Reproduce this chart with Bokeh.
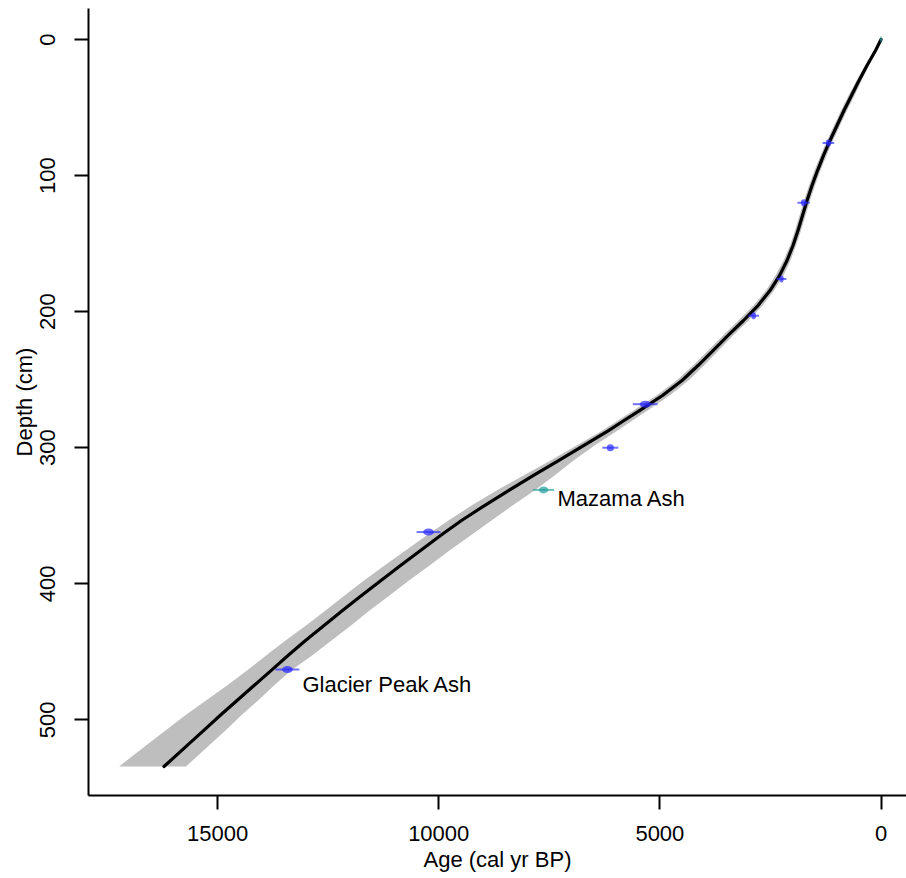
from bokeh.plotting import figure
from bokeh.models import Range1d, FixedTicker
from bokeh.core.properties import value
from bokeh.embed import file_html
from bokeh.resources import INLINE

# ---- age-depth model (median curve) ----
model_depth = [0, 8.1, 19.1, 30.1, 41.2, 52.2, 63.2, 74.2, 85.2, 96.3, 107.3, 118.3,
               129.3, 140.4, 151.4, 162.4, 173.5, 184.5, 195.5, 206.5, 217.5, 228.6,
               239.6, 250.6, 261.6, 272.7, 280.0, 287.4, 298.4, 309.4, 320.4, 331.5,
               342.5, 353.5, 364.5, 375.6, 386.6, 397.6, 408.6, 419.7, 430.7, 441.7,
               452.7, 463.8, 474.8, 485.8, 496.8, 507.9, 518.9, 534.3]
model_age = [0, 124, 317, 497, 667, 837, 995, 1153, 1300, 1436, 1560, 1673, 1775,
             1877, 1990, 2125, 2295, 2510, 2781, 3109, 3459, 3798, 4137, 4499, 4940,
             5460, 5811, 6161, 6726, 7291, 7857, 8422, 8965, 9485, 9959, 10411,
             10864, 11305, 11745, 12175, 12593, 13012, 13407, 13792, 14176, 14560,
             14944, 15318, 15691, 16211]

# ---- uncertainty envelope (same depths as the model) ----
band_age_old = [11, 158, 362, 554, 735, 905, 1063, 1221, 1368, 1504, 1628, 1741,
                1843, 1945, 2058, 2204, 2385, 2600, 2883, 3222, 3572, 3911, 4250,
                4623, 5076, 5596, 5947, 6297, 6884, 7472, 8083, 8693, 9259, 9779,
                10276, 10750, 11226, 11689, 12129, 12559, 13000, 13464, 13904, 14335,
                14786, 15261, 15735, 16177, 16618, 17228]
band_age_young = [-11, 90, 272, 440, 599, 769, 927, 1085, 1232, 1368, 1492, 1605,
                  1707, 1809, 1922, 2046, 2205, 2420, 2679, 2996, 3346, 3674, 4001,
                  4352, 4782, 5279, 5619, 5958, 6477, 6952, 7382, 7834, 8332, 8807,
                  9281, 9755, 10208, 10672, 11112, 11565, 11983, 12424, 12864, 13340,
                  13724, 14085, 14469, 14821, 15194, 15714]

# ---- dated levels ----
date_depth = [0, 76, 120, 176, 203, 268, 300, 331, 362, 463]
date_age = [0, 1190, 1750, 2250, 2880, 5330, 6120, 7630, 10230, 13420]
date_err = [30, 130, 140, 110, 120, 280, 180, 240, 270, 270]
date_kind = ["surface", "c14", "c14", "c14", "c14", "c14", "c14", "tephra", "c14", "c14"]

# ---- annotations ----
label_text = ["Mazama Ash", "Glacier Peak Ash"]
label_age = [7314, 13080]
label_depth = [337, 474]

x_ticks = [0, 5000, 10000, 15000]
y_ticks = [0, 100, 200, 300, 400, 500]

FONT = "Liberation Sans"
FS = "22px"

p = figure(width=906, height=878, output_backend="svg", toolbar_location=None,
           x_range=Range1d(17918, -576), y_range=Range1d(555.6, -22.8),
           min_border_left=88, min_border_right=0, min_border_top=8,
           min_border_bottom=83)
p.background_fill_color = "white"
p.border_fill_color = "white"
p.outline_line_color = None
p.grid.visible = False

# envelope and model
p.harea(y=model_depth, x1=band_age_old, x2=band_age_young, fill_color="#BEBEBE")
p.line(model_age, model_depth, line_color="black", line_width=3.2,
       line_join="round", line_cap="round")

# dates
colors = {"c14": "#2828FF", "tephra": "#229C9C", "surface": "#229C9C"}
for a, d, e, k in zip(date_age, date_depth, date_err, date_kind):
    c = colors[k]
    p.segment(x0=[a - e], y0=[d], x1=[a + e], y1=[d], line_color=c, line_width=2,
              line_alpha=0.65)
    p.ellipse(x=[a], y=[d], width=[e * 0.9], height=[7], height_units="screen",
              fill_color=c, fill_alpha=0.7, line_color=None)

p.text(x=label_age, y=label_depth, text=label_text, text_font=value(FONT),
       text_font_size=FS, text_align="left", text_baseline="middle",
       text_color="black")

for ax, ticks in ((p.xaxis, x_ticks), (p.yaxis, y_ticks)):
    ax.ticker = FixedTicker(ticks=ticks)
    ax.axis_line_width = 2
    ax.axis_line_color = "black"
    ax.major_tick_line_width = 2
    ax.major_tick_line_color = "black"
    ax.major_tick_out = 14
    ax.major_tick_in = 0
    ax.minor_tick_out = 0
    ax.minor_tick_in = 0
    ax.major_label_text_font = FONT
    ax.major_label_text_font_size = FS
    ax.major_label_text_color = "black"
    ax.axis_label_text_font = FONT
    ax.axis_label_text_font_size = FS
    ax.axis_label_text_font_style = "normal"
    ax.axis_label_text_color = "black"

p.xaxis.axis_label = "Age (cal yr BP)"
p.yaxis.axis_label = "Depth (cm)"
p.xaxis.major_label_standoff = 16
p.xaxis.axis_label_standoff = 3
p.yaxis.major_label_standoff = 19
p.yaxis.axis_label_standoff = 1
p.yaxis.major_label_orientation = "vertical"

open("out.html", "w").write(file_html(p, INLINE))
